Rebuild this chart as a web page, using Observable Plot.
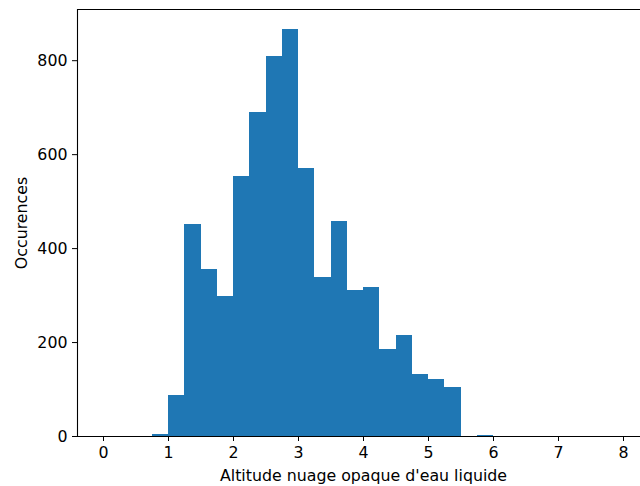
<!DOCTYPE html>
<html>
<head>
<meta charset="utf-8">
<script src="https://cdn.jsdelivr.net/npm/d3@7"></script>
<script src="https://cdn.jsdelivr.net/npm/@observablehq/plot@0.6"></script>
<style>
html, body { margin: 0; padding: 0; background: #fff; overflow: hidden; }
#chart svg { display: block; max-width: none !important; }
</style>
</head>
<body>
<div id="chart"></div>
<script>
// Histogram bins (start of each bin, width 0.25) and counts
const binStarts = [0, 0.25, 0.5, 0.75, 1, 1.25, 1.5, 1.75, 2, 2.25, 2.5, 2.75, 3, 3.25, 3.5, 3.75,
                   4, 4.25, 4.5, 4.75, 5, 5.25, 5.5, 5.75, 6, 6.25, 6.5, 6.75, 7, 7.25, 7.5, 7.75];
const binWidth = 0.25;
const counts = [0, 0, 0, 4, 87, 451, 355, 298, 554, 690, 809, 866, 571, 338, 457, 310,
                317, 185, 216, 132, 121, 104, 0, 2, 0, 0, 0, 0, 0, 0, 0, 0];
const xTicks = [0, 1, 2, 3, 4, 5, 6, 7, 8];
const yTicks = [0, 200, 400, 600, 800];
const xDomain = [-0.4, 8.4];
const yDomain = [0, 909];
const xLabel = "Altitude nuage opaque d'eau liquide";
const yLabel = "Occurences";

const bins = binStarts.map((s, i) => ({x1: s, x2: s + binWidth, count: counts[i]}))
  .filter(d => d.count > 0);

const chart = Plot.plot({
  width: 649,
  height: 486,
  marginLeft: 77,
  marginRight: 0,
  marginTop: 9,
  marginBottom: 50,
  style: {fontFamily: "DejaVu Sans", fontSize: "15.8px", color: "#000", background: "#fff", maxWidth: "none"},
  x: {domain: xDomain, ticks: xTicks, tickSize: 5, tickPadding: 5, label: xLabel, labelArrow: false, labelAnchor: "center", labelOffset: 44},
  y: {domain: yDomain, ticks: yTicks, tickSize: 5, tickPadding: 5, label: yLabel, labelArrow: false, labelAnchor: "center", labelOffset: 62},
  marks: [
    Plot.rectY(bins, {x1: "x1", x2: "x2", y: "count", fill: "#1f77b4", inset: 0, shapeRendering: "crispEdges"}),
    Plot.ruleX([xDomain[0]], {stroke: "#000", strokeWidth: 1.1}),
    Plot.ruleY([yDomain[0], yDomain[1]], {stroke: "#000", strokeWidth: 1.1})
  ]
});
document.getElementById("chart").appendChild(chart);
</script>
</body>
</html>
